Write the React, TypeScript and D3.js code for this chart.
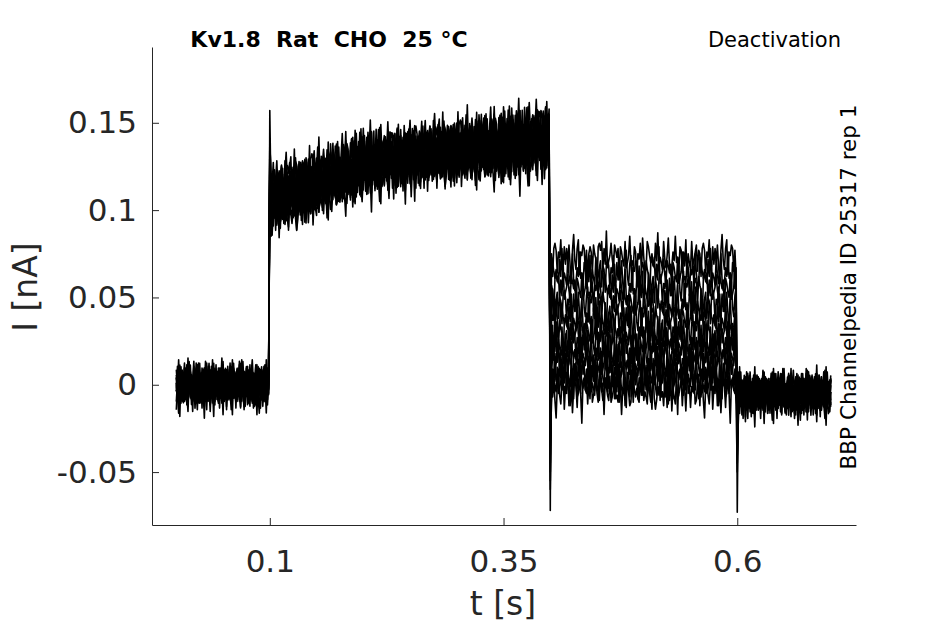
import { useEffect, useRef } from 'react';
import * as d3 from 'd3';

// sweep protocol (s): holding, activation step, deactivation step, return
const sampleStep = 0.00125;
const sampleCount = 561; // 0 .. 0.7 s
const stepOnIndex = 80; // 0.1 s
const stepOffIndex = 320; // 0.4 s
const returnIndex = 480; // 0.6 s

// holding level before the step (nA), one per sweep
const baseLevel = [0.001, -0.002, 0.0, 0.002, -0.001, 0.001, -0.003, 0.0, 0.002, -0.001, 0.0, -0.002];

// activation current read at a few times during the 0.1-0.4 s step
const actKnotTimes = [0.1, 0.15, 0.2, 0.3, 0.4];
const actAt100 = [0.112, 0.104, 0.097, 0.115, 0.106, 0.099, 0.11, 0.094, 0.108, 0.102, 0.1, 0.113];
const actAt150 = [0.121, 0.114, 0.108, 0.124, 0.116, 0.11, 0.119, 0.105, 0.117, 0.112, 0.111, 0.122];
const actAt200 = [0.131, 0.125, 0.121, 0.135, 0.127, 0.122, 0.13, 0.119, 0.128, 0.124, 0.123, 0.133];
const actAt300 = [0.139, 0.133, 0.128, 0.142, 0.135, 0.129, 0.137, 0.126, 0.136, 0.131, 0.13, 0.14];
const actAt400 = [0.147, 0.139, 0.132, 0.151, 0.142, 0.135, 0.145, 0.13, 0.143, 0.137, 0.136, 0.148];

// tail current during the deactivation step
const tailLevel = [0.073, 0.064, 0.055, 0.046, 0.038, 0.03, 0.024, 0.018, 0.012, 0.006, 0.001, -0.004];

// after returning to holding
const endLevel = [-0.004, -0.006, -0.005, -0.007, -0.003, -0.006, -0.005, -0.004, -0.007, -0.005, -0.006, -0.004];

// capacitive transients at the step edges
const onSpike = [0.157, 0.128, 0.121, 0.14, 0.118, 0.125, 0.133, 0.115, 0.13, 0.12, 0.124, 0.138];
const offSpike = [-0.072, -0.04, -0.03, -0.055, -0.025, -0.035, -0.045, -0.02, -0.05, -0.028, -0.033, -0.06];
const returnSpike = [-0.073, -0.03, -0.025, -0.045, -0.02, -0.028, -0.038, -0.018, -0.04, -0.022, -0.026, -0.05];

// recording noise, in pA
const noisePa = [
    3, 7, -2, -8, -5, 4, 9, 2, -6, -11, -3, 5, 1, 8, 12, 4, -4, -9, -2, 3,
    -6, 0, 6, 10, 3, -7, -13, -5, 2, 6, -1, -4, 8, 5, -9, -3, 11, 7, 0, -5,
    -8, -15, -6, 4, 9, 13, 6, -2, 1, -7, -3, 5, 2, 10, -4, -10, -6, 3, 8, 1,
    -2, 7, 14, 5, -5, -8, 0, 4, -3, -12, -7, 2, 9, 6, -1, 3, -6, -9, 1, 7,
    11, 2, -4, -1, -10, -18, -5, 6, 3, 8, -2, 4, 12, 9, -3, -7, 0, 5, -8, -4,
    6, 15, 4, -6, -9, -2, 3, 1, -5, 8, 10, -1, -11, -6, 2, 7, -3, 4, -7, 0,
    9, 5, -4, -13, -2, 6, 3,
];
const noiseGain = { base: 0.95, act: 1.15, tail: 1.0, end: 0.95 };

const xTicks = [0.1, 0.35, 0.6];
const xTickLabels = ['0.1', '0.35', '0.6'];
const yTicks = [-0.05, 0, 0.05, 0.1, 0.15];
const yTickLabels = ['-0.05', '0', '0.05', '0.1', '0.15'];

const WIDTH = 945;
const HEIGHT = 624;
const FONT = '"DejaVu Sans", sans-serif';
const AXIS_COLOR = '#262626';

function buildSweep(s: number): [number, number][] {
    const act = d3.scaleLinear()
        .domain(actKnotTimes)
        .range([actAt100[s], actAt150[s], actAt200[s], actAt300[s], actAt400[s]]);
    const pts: [number, number][] = [];
    for (let k = 0; k < sampleCount; k++) {
        const t = k * sampleStep;
        const n = noisePa[(2 * k + s * 37) % noisePa.length] * 0.001;
        let v: number;
        if (k < stepOnIndex) v = baseLevel[s] + n * noiseGain.base;
        else if (k === stepOnIndex) v = onSpike[s];
        else if (k < stepOffIndex) v = act(t) + n * noiseGain.act;
        else if (k === stepOffIndex) v = offSpike[s];
        else if (k < returnIndex) v = tailLevel[s] + n * noiseGain.tail;
        else if (k === returnIndex) v = returnSpike[s];
        else v = endLevel[s] + n * noiseGain.end;
        pts.push([t, v]);
    }
    return pts;
}

export default function App() {
    const svgRef = useRef<SVGSVGElement>(null);

    useEffect(() => {
        if (!svgRef.current) return;
        const svg = d3.select(svgRef.current);
        svg.selectAll('*').remove();

        const x = d3.scaleLinear().domain([-0.026, 0.727]).range([152, 856]);
        const y = d3.scaleLinear().domain([-0.0803, 0.1934]).range([525, 47]);

        // traces
        const line = d3.line<[number, number]>()
            .x(d => x(d[0]))
            .y(d => y(d[1]));

        const traces = svg.append('g');
        baseLevel.forEach((_, s) => {
            traces.append('path')
                .attr('d', line(buildSweep(s)))
                .attr('fill', 'none')
                .attr('stroke', '#000')
                .attr('stroke-width', 1.6)
                .attr('stroke-linejoin', 'round');
        });

        // axes, matlab style ticks pointing inwards
        const xAxis = svg.append('g')
            .attr('transform', 'translate(0,525)')
            .call(d3.axisBottom(x)
                .tickValues(xTicks)
                .tickFormat((_, i) => xTickLabels[i])
                .tickSizeInner(-7)
                .tickSizeOuter(0)
                .tickPadding(25));

        const yAxis = svg.append('g')
            .attr('transform', 'translate(152,0)')
            .call(d3.axisLeft(y)
                .tickValues(yTicks)
                .tickFormat((_, i) => yTickLabels[i])
                .tickSizeInner(-7)
                .tickSizeOuter(0)
                .tickPadding(15));

        [xAxis, yAxis].forEach(ax => {
            ax.select('.domain').attr('stroke', AXIS_COLOR);
            ax.selectAll('.tick line').attr('stroke', AXIS_COLOR);
            ax.selectAll('.tick text')
                .attr('fill', AXIS_COLOR)
                .style('font-family', FONT)
                .style('font-size', '31px');
        });

        // axis labels
        svg.append('text')
            .attr('x', 503)
            .attr('y', 615)
            .attr('text-anchor', 'middle')
            .style('font-family', FONT)
            .style('font-size', '33px')
            .style('fill', AXIS_COLOR)
            .text('t [s]');

        svg.append('text')
            .attr('transform', 'translate(37,287) rotate(-90)')
            .attr('text-anchor', 'middle')
            .style('font-family', FONT)
            .style('font-size', '33px')
            .style('fill', AXIS_COLOR)
            .text('I [nA]');

        // titles
        svg.append('text')
            .attr('x', 329)
            .attr('y', 47)
            .attr('text-anchor', 'middle')
            .style('font-family', FONT)
            .style('font-size', '22px')
            .style('font-weight', 'bold')
            .style('white-space', 'pre')
            .text('Kv1.8  Rat  CHO  25 °C');

        svg.append('text')
            .attr('x', 841)
            .attr('y', 47)
            .attr('text-anchor', 'end')
            .style('font-family', FONT)
            .style('font-size', '21px')
            .text('Deactivation');

        svg.append('text')
            .attr('transform', 'translate(856,287) rotate(-90)')
            .attr('text-anchor', 'middle')
            .style('font-family', FONT)
            .style('font-size', '21.5px')
            .text('BBP Channelpedia ID 25317 rep 1');
    }, []);

    return (
        <div style={{ position: 'absolute', left: 0, top: 0 }}>
            <svg ref={svgRef} width={WIDTH} height={HEIGHT} style={{ display: 'block', background: '#fff' }}></svg>
        </div>
    );
}
